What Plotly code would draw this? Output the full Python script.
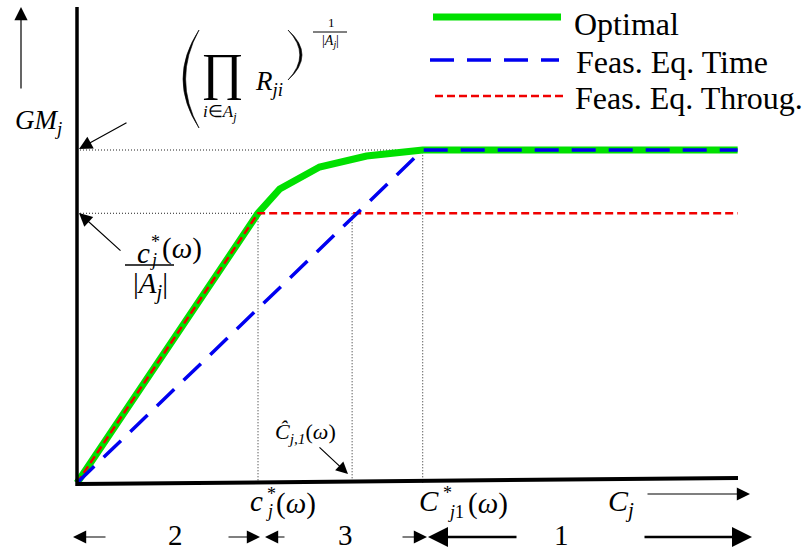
import plotly.graph_objects as go

W, H = 811, 553
# Origin of the sketch in pixels and pixels per unit on each axis
ORIGIN_X, ORIGIN_Y = 77, 483
SX, SY = 181, 333

# Break points on the C_j axis
c_star = 1.0      # c*_j(ω)
c_hat = 1.52      # Ĉ_{j,1}(ω)
C_star = 1.91     # C*_{j1}(ω)
x_end = 3.65

# Levels on the GM_j axis
gm_max = 1.0      # (∏ R_ji)^(1/|A_j|)
gm_ratio = 0.81   # c*_j(ω)/|A_j|

opt_x = [0, c_star, 1.12, 1.34, 1.60, C_star, x_end]
opt_y = [0, gm_ratio, 0.883, 0.949, 0.982, gm_max, gm_max]
time_x = [0, C_star, x_end]
time_y = [0, gm_max, gm_max]
thr_x = [0, c_star, x_end]
thr_y = [0, gm_ratio, gm_ratio]

legend_names = ["Optimal", "Feas. Eq. Time", "Feas. Eq. Throug."]
segment_labels = ["2", "3", "1"]

GREEN = "#00e000"
BLUE = "#0000f0"
RED = "#f00000"
SERIF = "Liberation Serif"


def px(x):
    return x / W


def py(y):
    return 1 - y / H


fig = go.Figure()

# dotted guide lines
guide = dict(color="#222", width=1, dash="1px,2px")
fig.add_trace(go.Scatter(x=[0, C_star, C_star], y=[gm_max, gm_max, 0],
                         mode="lines", line=guide, hoverinfo="skip"))
fig.add_trace(go.Scatter(x=[0, c_star, c_star], y=[gm_ratio, gm_ratio, 0],
                         mode="lines", line=guide, hoverinfo="skip"))
fig.add_trace(go.Scatter(x=[c_hat, c_hat], y=[gm_ratio, 0],
                         mode="lines", line=guide, hoverinfo="skip"))

# the three strategies
fig.add_trace(go.Scatter(x=opt_x, y=opt_y, mode="lines", name=legend_names[0],
                         line=dict(color=GREEN, width=7)))
fig.add_trace(go.Scatter(x=thr_x, y=thr_y, mode="lines", name=legend_names[2],
                         line=dict(color=RED, width=2.5, dash="8px,4px")))
fig.add_trace(go.Scatter(x=time_x, y=time_y, mode="lines", name=legend_names[1],
                         line=dict(color=BLUE, width=3.5, dash="24px,13px")))

shapes = []


def seg(x0, y0, x1, y1, color="black", width=1.0, dash="solid"):
    shapes.append(dict(type="line", xref="paper", yref="paper",
                       x0=px(x0), y0=py(y0), x1=px(x1), y1=py(y1),
                       line=dict(color=color, width=width, dash=dash)))


# axes
seg(77, 7, 77, 486, width=3.5)
seg(77, 484, 738, 478, width=4)

# legend samples
seg(433, 17, 561, 17, color=GREEN, width=7)
seg(430, 60, 559, 60, color=BLUE, width=3.5, dash="24px,13px")
seg(435, 96, 563, 96, color=RED, width=2.5, dash="8px,4px")

# fraction bars
seg(125, 265, 174, 265, width=1.3)
seg(313, 32, 347, 32, width=1)


def paren(top, bottom, x_tip, x_end_pt, thick):
    """Crescent-shaped parenthesis as a filled path (pixel coordinates)."""
    ymid = (top[1] + bottom[1]) / 2
    c_out = 2 * x_tip - x_end_pt
    c_in = c_out + (2 * thick if x_tip < x_end_pt else -2 * thick)
    p = (f"M {px(top[0])},{py(top[1])} "
         f"Q {px(c_out)},{py(ymid)} {px(bottom[0])},{py(bottom[1])} "
         f"Q {px(c_in)},{py(ymid)} {px(top[0])},{py(top[1])} Z")
    shapes.append(dict(type="path", xref="paper", yref="paper", path=p,
                       fillcolor="black", line=dict(color="black", width=0.6)))


paren((199, 30), (199, 128), 183, 199, 2.6)
paren((288, 30), (288, 80), 302, 288, 2.2)

annotations = []


def text(x, y, s, size, xanchor="center"):
    annotations.append(dict(x=px(x), y=py(y), xref="paper", yref="paper",
                            text=s, showarrow=False, xanchor=xanchor,
                            yanchor="middle",
                            font=dict(family=SERIF, size=size, color="black")))


def arrow(head, tail, width=1.2, size=2.2):
    annotations.append(dict(x=px(head[0]), y=py(head[1]), xref="paper",
                            yref="paper", ax=tail[0] - head[0],
                            ay=tail[1] - head[1], text="", showarrow=True,
                            arrowhead=2, arrowsize=size, arrowwidth=width,
                            arrowcolor="black", standoff=0, startstandoff=0))


# legend text
text(572, 24, legend_names[0], 32, "left")
text(574, 62, legend_names[1], 32, "left")
text(573, 98, legend_names[2], 32, "left")

# vertical axis label and arrows
text(38, 122, "<i>GM<sub>j</sub></i>", 27)
arrow((21, 7), (21, 90))
arrow((79, 149), (128, 122))
arrow((79, 213), (122, 252))

# geometric mean formula
text(222, 72, "∏", 52)
text(220, 113, "<i>i</i>∈<i>A<sub>j</sub></i>", 17)
text(269, 83, "<i>R<sub>ji</sub></i>", 27)
text(331, 23, "1", 13)
text(330, 42, "|<i>A<sub>j</sub></i>|", 14)

# c*_j(ω)/|A_j|
text(143, 253, "<i>c</i>", 29)
text(155, 242, "*", 18)
text(153, 260, "<i>j</i>", 18)
text(182, 249, "(<i>ω</i>)", 29)
text(150, 285, "|<i>A<sub>j</sub></i>|", 29)

# Ĉ_{j,1}(ω)
text(305, 433, "<i>Ĉ<sub>j,1</sub></i>(<i>ω</i>)", 22)
arrow((348, 474), (318, 446), size=2.0)

# horizontal axis labels
text(256, 501, "<i>c</i>", 29)
text(271, 494, "*", 18)
text(269, 511, "<i>j</i>", 18)
text(296, 503, "(<i>ω</i>)", 29)

text(429, 501, "<i>C</i>", 29)
text(448, 493, "*", 18)
text(456, 512, "<i>j</i>1", 18)
text(488, 503, "(<i>ω</i>)", 29)

text(621, 503, "<i>C<sub>j</sub></i>", 30)
arrow((750, 494), (646, 494))

# regions below the axis
text(175, 535, segment_labels[0], 29)
text(345, 535, segment_labels[1], 29)
text(561, 535, segment_labels[2], 29)
arrow((73, 537), (107, 537))
arrow((260, 537), (227, 537))
arrow((265, 537), (286, 537))
arrow((427, 537), (401, 537))
arrow((428, 537), (518, 537), width=2.5, size=1.6)
arrow((752, 537), (643, 537), width=2.5, size=1.6)

fig.update_layout(
    width=W, height=H,
    margin=dict(l=0, r=0, t=0, b=0),
    paper_bgcolor="white", plot_bgcolor="white",
    showlegend=False,
    xaxis=dict(visible=False, range=[-ORIGIN_X / SX, (W - ORIGIN_X) / SX],
               fixedrange=True),
    yaxis=dict(visible=False, range=[(ORIGIN_Y - H) / SY, ORIGIN_Y / SY],
               fixedrange=True),
    shapes=shapes,
    annotations=annotations,
)

fig.write_html("out.html")
